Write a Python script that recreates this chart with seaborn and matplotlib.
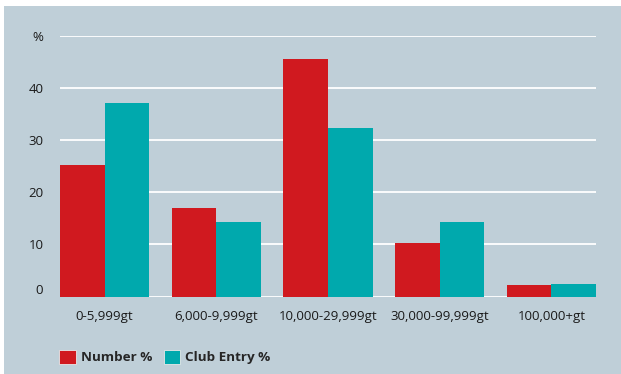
import numpy as np
import pandas as pd
import matplotlib.pyplot as plt
import seaborn as sns
from matplotlib.patches import Rectangle

# ---------- data ----------
categories = ["0-5,999gt", "6,000-9,999gt", "10,000-29,999gt", "30,000-99,999gt", "100,000+gt"]
number_pct = [25.3, 17.0, 45.6, 10.3, 2.2]
club_entry_pct = [37.2, 14.3, 32.4, 14.3, 2.4]
series_names = ["Number %", "Club Entry %"]
y_ticks = [0, 10, 20, 30, 40, 50]
y_tick_labels = ["0", "10", "20", "30", "40", "%"]

df = pd.DataFrame({
    "category": categories * 2,
    "value": number_pct + club_entry_pct,
    "series": [series_names[0]] * len(categories) + [series_names[1]] * len(categories),
})

# ---------- style ----------
bg = "#bfcfd8"
red = "#d0191f"
teal = "#00a9ad"
sns.set_style("white")
plt.rcParams["font.family"] = ["Open Sans", "DejaVu Sans"]

fig = plt.figure(figsize=(6.21, 3.74), dpi=100, facecolor="white")
# panel behind everything (white strip on top and left)
fig.patches.append(Rectangle((4 / 621, 0), 1, 1 - 6 / 374, transform=fig.transFigure,
                             facecolor=bg, edgecolor="none", zorder=-10))

ax = fig.add_axes([60 / 621, 77.5 / 374, 536 / 621, 260.5 / 374])
ax.patch.set_alpha(0)

sns.barplot(data=df, x="category", y="value", hue="series", order=categories,
            hue_order=series_names, palette=[red, teal], width=0.8,
            saturation=1, dodge=True, ax=ax, legend=True, zorder=3,
            linewidth=0, edgecolor="none")

for y in y_ticks:
    ax.axhline(y, color="white", lw=1.3, zorder=1)

ax.set_xlim(-0.4, 4.4)
ax.set_ylim(0, 50)
ax.set_yticks(y_ticks)
ax.set_yticklabels(y_tick_labels, fontsize=9.5, color="#1a1a1a")
ax.tick_params(axis="y", length=0, pad=12)
ax.tick_params(axis="x", length=0, pad=10, labelsize=9.5, labelcolor="#1a1a1a")
ax.get_yticklabels()[0].set_verticalalignment("bottom")
ax.set_xlabel("")
ax.set_ylabel("")
for s in ax.spines.values():
    s.set_visible(False)

handles, labels = ax.get_legend_handles_labels()
ax.get_legend().remove()
for h in handles:
    h.set_edgecolor("#e8e8e8")
    h.set_linewidth(0.6)
leg = fig.legend(handles, labels, loc="center left", bbox_to_anchor=(54 / 621, 1 - 357 / 374),
                 ncol=2, frameon=False, handlelength=1.2, handleheight=1.2,
                 handletextpad=0.4, columnspacing=0.85, borderaxespad=0,
                 prop={"size": 9.7, "weight": "bold"})

fig.savefig("out.png", dpi=100, facecolor=fig.get_facecolor())
